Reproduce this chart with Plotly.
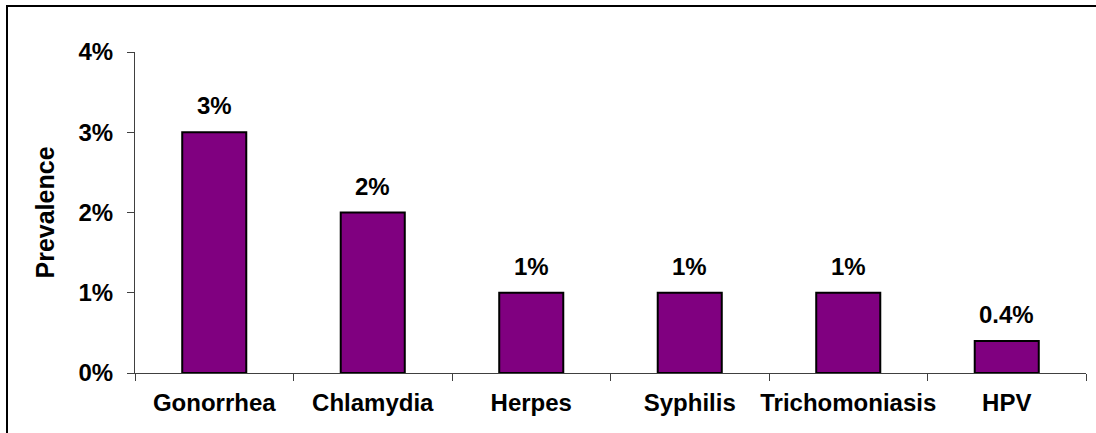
import plotly.graph_objects as go

categories = ["Gonorrhea", "Chlamydia", "Herpes", "Syphilis", "Trichomoniasis", "HPV"]
prevalence = [3, 2, 1, 1, 1, 0.4]
bar_labels = ["3%", "2%", "1%", "1%", "1%", "0.4%"]
y_tick_vals = [0, 1, 2, 3, 4]
y_tick_text = ["0%", "1%", "2%", "3%", "4%"]

W, H = 1096, 433
ML, MR, MT, MB = 135, 10, 52, 60
FONT = "Liberation Sans, Arial, sans-serif"

fig = go.Figure()
fig.add_trace(go.Bar(
    x=categories, y=prevalence,
    marker=dict(color="#800080", line=dict(color="black", width=2)),
    hoverinfo="skip",
))

for c, v, t in zip(categories, prevalence, bar_labels):
    fig.add_annotation(x=c, y=v, text=f"<b>{t}</b>", showarrow=False,
                       yanchor="bottom", yshift=11,
                       font=dict(family=FONT, size=24, color="black"))

pw = W - ML - MR
ph = H - MT - MB
fig.add_shape(type="rect", xref="paper", yref="paper",
              x0=(7 - ML) / pw, x1=(W + 10 - ML) / pw,
              y0=-(H + 10 - (H - MB)) / ph, y1=((H - MB) - 6) / ph,
              line=dict(color="black", width=2), fillcolor="rgba(0,0,0,0)", layer="below")

fig.update_layout(
    width=W, height=H,
    margin=dict(l=ML, r=MR, t=MT, b=MB, pad=0, autoexpand=False),
    paper_bgcolor="white", plot_bgcolor="white",
    bargap=0.596,
    showlegend=False,
    font=dict(family=FONT, color="black"),
    xaxis=dict(
        type="category", tickson="boundaries", tickangle=0, automargin=False,
        ticks="outside", ticklen=7, tickcolor="#404040", tickwidth=1,
        showline=True, linecolor="#404040", linewidth=1,
        showgrid=False, zeroline=False,
        tickfont=dict(family=FONT, size=24, color="black"),
        tickprefix="<b>", ticksuffix="</b>",
        ticklabelstandoff=8,
    ),
    yaxis=dict(
        range=[0, 4], tickvals=y_tick_vals, automargin=False,
        ticktext=[f"<b>{t}</b>" for t in y_tick_text],
        ticks="outside", ticklen=7, tickcolor="#404040", tickwidth=1,
        showline=True, linecolor="#404040", linewidth=1,
        showgrid=False, zeroline=False,
        tickfont=dict(family=FONT, size=24, color="black"),
        ticklabelstandoff=9,
        title=dict(text="<b>Prevalence</b>", font=dict(family=FONT, size=25, color="black"), standoff=16),
    ),
)

fig.write_html("out.html", config={"displayModeBar": False},
               post_script="document.body.style.margin='0';")
